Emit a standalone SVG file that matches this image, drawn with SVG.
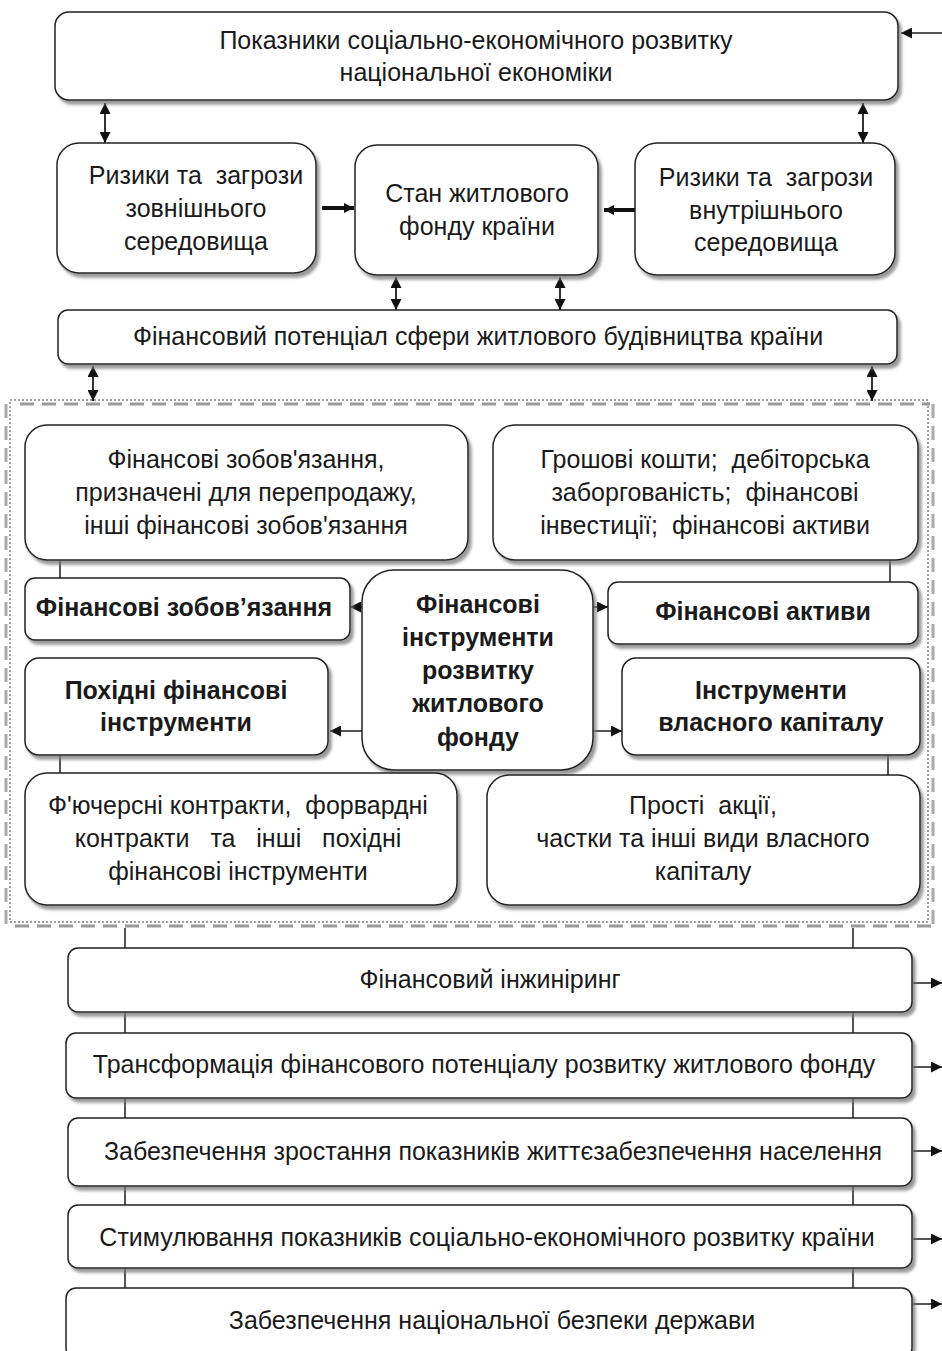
<svg xmlns="http://www.w3.org/2000/svg" width="942" height="1351" viewBox="0 0 942 1351">
<style>
.box{fill:#fff;stroke:#222;stroke-width:1.5;filter:url(#sh)}
.t{font-family:"Liberation Sans",Arial,sans-serif;font-size:25px;fill:#1a1a1a;text-anchor:middle}
.b{font-weight:bold}
.ln{stroke:#555;stroke-width:2;fill:none}
.da{stroke:#333;stroke-width:2;fill:none;marker-start:url(#ah);marker-end:url(#ah)}
.ar{stroke:#555;stroke-width:2;fill:none;marker-end:url(#ah)}
.thick{stroke:#111;stroke-width:4;fill:none;marker-end:url(#ahb)}
</style>
<defs>
<filter id="sh" x="-5%" y="-10%" width="115%" height="130%">
<feDropShadow dx="3" dy="4" stdDeviation="1.5" flood-color="#777" flood-opacity="0.75"/>
</filter>
<marker id="ah" viewBox="0 0 10 10" refX="10" refY="5" markerWidth="11" markerHeight="11" markerUnits="userSpaceOnUse" orient="auto-start-reverse">
<path d="M0,0 L10,5 L0,10 Z" fill="#111"/>
</marker>
<marker id="ahb" viewBox="0 0 10 10" refX="10" refY="5" markerWidth="10" markerHeight="12" markerUnits="userSpaceOnUse" orient="auto">
<path d="M0,0 L10,5 L0,10 Z" fill="#111"/>
</marker>
</defs>

<g id="container">
<rect x="10" y="400" width="918" height="522" fill="none" stroke="#444" stroke-width="1" stroke-dasharray="2,2"/>
<path d="M20,404 H930 M15,926 H935" stroke="#999" stroke-width="3" stroke-dasharray="14,8" fill="none"/>
<path d="M933,404 V926 M6,404 V926" stroke="#aaa" stroke-width="3" stroke-dasharray="14,8" fill="none"/>
</g>

<g id="connectors">
<line class="ar" x1="942" y1="33" x2="901" y2="33"/>
<line class="da" x1="105" y1="103" x2="105" y2="143"/>
<line class="da" x1="863" y1="103" x2="863" y2="143"/>
<line class="thick" x1="322" y1="208" x2="354" y2="208"/>
<line class="thick" x1="636" y1="210" x2="604" y2="210"/>
<line class="da" x1="396" y1="277" x2="396" y2="310"/>
<line class="da" x1="560" y1="277" x2="560" y2="310"/>
<line class="da" x1="93" y1="366" x2="93" y2="401"/>
<line class="da" x1="872" y1="366" x2="872" y2="401"/>
<line class="ln" x1="60" y1="560" x2="60" y2="578"/>
<line class="ln" x1="890" y1="560" x2="890" y2="582"/>
<line class="ar" x1="363" y1="607" x2="350" y2="607"/>
<line class="ar" x1="593" y1="607" x2="608" y2="607"/>
<line class="ar" x1="363" y1="731" x2="330" y2="731"/>
<line class="ar" x1="593" y1="731" x2="622" y2="731"/>
<line class="ln" x1="60" y1="755" x2="60" y2="774"/>
<line class="ln" x1="888" y1="755" x2="888" y2="775"/>
<line class="ln" x1="125" y1="928" x2="125" y2="948"/>
<line class="ln" x1="853" y1="928" x2="853" y2="948"/>
<line class="ln" x1="125" y1="1012" x2="125" y2="1033"/>
<line class="ln" x1="853" y1="1012" x2="853" y2="1033"/>
<line class="ln" x1="125" y1="1098" x2="125" y2="1118"/>
<line class="ln" x1="853" y1="1098" x2="853" y2="1118"/>
<line class="ln" x1="125" y1="1186" x2="125" y2="1205"/>
<line class="ln" x1="853" y1="1186" x2="853" y2="1205"/>
<line class="ln" x1="125" y1="1268" x2="125" y2="1288"/>
<line class="ln" x1="853" y1="1268" x2="853" y2="1288"/>
<line class="ar" x1="913" y1="983" x2="942" y2="983"/>
<line class="ar" x1="913" y1="1067" x2="942" y2="1067"/>
<line class="ar" x1="913" y1="1151" x2="942" y2="1151"/>
<line class="ar" x1="913" y1="1239" x2="942" y2="1239"/>
<line class="ar" x1="913" y1="1304" x2="942" y2="1304"/>
</g>

<g id="n-top">
<rect class="box" x="55" y="12" width="843" height="88" rx="14"/>
<text class="t" x="476" y="49">Показники соціально-економічного розвитку</text>
<text class="t" x="476" y="81">національної економіки</text>
</g>
<g id="n-risk-ext">
<rect class="box" x="57" y="143" width="259" height="130" rx="22"/>
<text class="t" x="196" y="184" xml:space="preserve">Ризики та  загрози</text>
<text class="t" x="196" y="217">зовнішнього</text>
<text class="t" x="196" y="250">середовища</text>
</g>
<g id="n-stan">
<rect class="box" x="355" y="145" width="243" height="130" rx="22"/>
<text class="t" x="477" y="202">Стан житлового</text>
<text class="t" x="477" y="235">фонду країни</text>
</g>
<g id="n-risk-int">
<rect class="box" x="635" y="143" width="260" height="132" rx="22"/>
<text class="t" x="766" y="186" xml:space="preserve">Ризики та  загрози</text>
<text class="t" x="766" y="219">внутрішнього</text>
<text class="t" x="766" y="251">середовища</text>
</g>
<g id="n-potential">
<rect class="box" x="58" y="310" width="839" height="54" rx="10"/>
<text class="t" x="478" y="345">Фінансовий потенціал сфери житлового будівництва країни</text>
</g>
<g id="n-liab-det">
<rect class="box" x="25" y="425" width="443" height="135" rx="22"/>
<text class="t" x="246" y="468">Фінансові зобов'язання,</text>
<text class="t" x="246" y="501">призначені для перепродажу,</text>
<text class="t" x="246" y="534">інші фінансові зобов'язання</text>
</g>
<g id="n-assets-det">
<rect class="box" x="493" y="425" width="425" height="135" rx="22"/>
<text class="t" x="705" y="468" xml:space="preserve">Грошові кошти;  дебіторська</text>
<text class="t" x="705" y="501" xml:space="preserve">заборгованість;  фінансові</text>
<text class="t" x="705" y="534" xml:space="preserve">інвестиції;  фінансові активи</text>
</g>
<g id="n-liab">
<rect class="box" x="25" y="578" width="325" height="62" rx="10"/>
<text class="t b" x="184" y="616">Фінансові зобов’язання</text>
</g>
<g id="n-assets">
<rect class="box" x="608" y="582" width="310" height="62" rx="10"/>
<text class="t b" x="763" y="620">Фінансові активи</text>
</g>
<g id="n-center">
<rect class="box" x="362" y="570" width="231" height="200" rx="32"/>
<text class="t b" x="478" y="613">Фінансові</text>
<text class="t b" x="478" y="646">інструменти</text>
<text class="t b" x="478" y="679">розвитку</text>
<text class="t b" x="478" y="712">житлового</text>
<text class="t b" x="478" y="746">фонду</text>
</g>
<g id="n-deriv">
<rect class="box" x="25" y="658" width="303" height="97" rx="14"/>
<text class="t b" x="176" y="699">Похідні фінансові</text>
<text class="t b" x="176" y="731">інструменти</text>
</g>
<g id="n-equity">
<rect class="box" x="622" y="658" width="298" height="97" rx="14"/>
<text class="t b" x="771" y="699">Інструменти</text>
<text class="t b" x="771" y="731">власного капіталу</text>
</g>
<g id="n-deriv-det">
<rect class="box" x="25" y="773" width="432" height="132" rx="22"/>
<text class="t" x="238" y="814" xml:space="preserve">Ф'ючерсні контракти,  форвардні</text>
<text class="t" x="238" y="847" xml:space="preserve">контракти   та   інші   похідні</text>
<text class="t" x="238" y="880">фінансові інструменти</text>
</g>
<g id="n-equity-det">
<rect class="box" x="487" y="775" width="433" height="130" rx="22"/>
<text class="t" x="703" y="814" xml:space="preserve">Прості  акції,</text>
<text class="t" x="703" y="847">частки та інші види власного</text>
<text class="t" x="703" y="880">капіталу</text>
</g>
<g id="n-engineering">
<rect class="box" x="68" y="948" width="844" height="64" rx="10"/>
<text class="t" x="490" y="988">Фінансовий інжиніринг</text>
</g>
<g id="n-transform">
<rect class="box" x="66" y="1033" width="846" height="65" rx="10"/>
<text class="t" x="484" y="1073">Трансформація фінансового потенціалу розвитку житлового фонду</text>
</g>
<g id="n-growth">
<rect class="box" x="68" y="1118" width="844" height="68" rx="10"/>
<text class="t" x="493" y="1160">Забезпечення зростання показників життєзабезпечення населення</text>
</g>
<g id="n-stimul">
<rect class="box" x="68" y="1205" width="844" height="63" rx="10"/>
<text class="t" x="487" y="1246">Стимулювання показників соціально-економічного розвитку країни</text>
</g>
<g id="n-security">
<rect class="box" x="66" y="1288" width="846" height="70" rx="10"/>
<text class="t" x="492" y="1329">Забезпечення національної безпеки держави</text>
</g>
</svg>
